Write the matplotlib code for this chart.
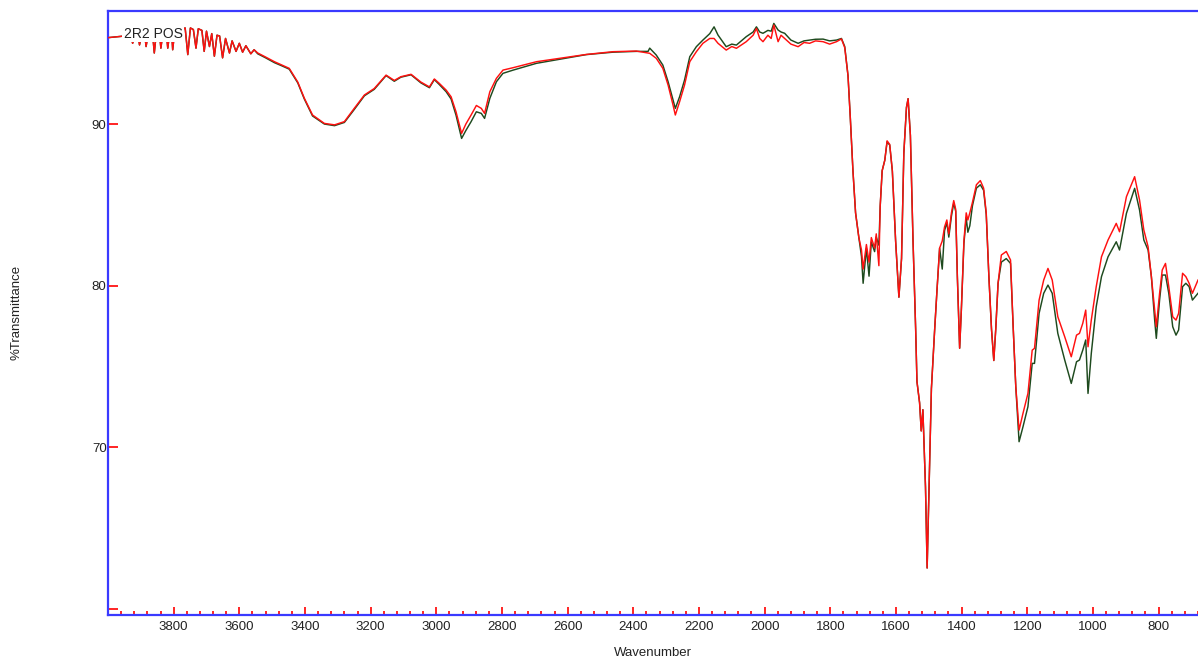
import matplotlib
matplotlib.use("Agg")
import matplotlib.pyplot as plt
from matplotlib.ticker import MultipleLocator, FixedLocator, FuncFormatter

plt.rcParams['font.family'] = ['Liberation Sans', 'DejaVu Sans']

# ---- data ----
wavenumber = [
    4000, 3975, 3950, 3930, 3925, 3918, 3908, 3904, 3898, 3888, 3884, 3878, 3864, 3859, 3853, 3843,
    3839, 3833, 3822, 3818, 3812, 3806, 3803, 3797, 3785, 3775, 3765, 3757, 3749, 3740, 3732, 3725,
    3714, 3707, 3700, 3691, 3684, 3676, 3668, 3660, 3651, 3642, 3630, 3622, 3610, 3600, 3590, 3580,
    3565, 3555, 3544, 3520, 3493, 3470, 3448, 3422, 3402, 3377, 3341, 3310, 3280, 3250, 3219, 3189,
    3153, 3128, 3108, 3077, 3047, 3021, 3006, 2991, 2970, 2955, 2940, 2923, 2910, 2894, 2878, 2863,
    2853, 2837, 2817, 2797, 2766, 2695, 2614, 2543, 2462, 2391, 2355, 2350, 2330, 2310, 2294, 2279,
    2272, 2259, 2244, 2228, 2208, 2188, 2167, 2154, 2142, 2117, 2100, 2086, 2056, 2035, 2025, 2015,
    2005, 1990, 1980, 1972, 1959, 1950, 1939, 1920, 1898, 1880, 1863, 1845, 1822, 1802, 1781, 1766,
    1756, 1746, 1739, 1731, 1723, 1713, 1705, 1700, 1690, 1682, 1675, 1665, 1660, 1652, 1648, 1642,
    1634, 1627, 1619, 1611, 1601, 1591, 1583, 1576, 1568, 1563, 1556, 1548, 1540, 1536, 1528, 1523,
    1518, 1510, 1505, 1499, 1492, 1482, 1475, 1467, 1459, 1452, 1445, 1439, 1431, 1424, 1418, 1413,
    1406, 1401, 1393, 1386, 1381, 1375, 1367, 1355, 1343, 1333, 1325, 1317, 1309, 1302, 1296, 1289,
    1279, 1264, 1251, 1243, 1235, 1225, 1213, 1198, 1185, 1178, 1164, 1150, 1137, 1124, 1107, 1086,
    1066, 1050, 1041, 1031, 1022, 1015, 1005, 990, 974, 954, 929, 919, 898, 873, 858, 845,
    832, 822, 812, 807, 797, 789, 779, 769, 757, 747, 739, 727, 717, 707, 697, 680,
]

transmittance_red = [
    95.35, 95.40, 95.45, 95.50, 95.00, 95.50, 95.50, 94.90, 95.50, 95.50, 94.80, 95.55, 95.55, 94.40, 95.60, 95.60,
    94.70, 95.60, 95.60, 94.70, 95.65, 95.65, 94.60, 95.70, 95.75, 95.85, 95.95, 94.30, 95.95, 95.85, 94.70, 95.90,
    95.80, 94.50, 95.75, 94.80, 95.60, 94.20, 95.50, 95.45, 94.10, 95.30, 94.40, 95.15, 94.50, 95.00, 94.45, 94.85,
    94.35, 94.60, 94.40, 94.15, 93.86, 93.65, 93.45, 92.60, 91.60, 90.56, 90.04, 89.95, 90.15, 90.97, 91.80, 92.20,
    93.03, 92.70, 92.93, 93.08, 92.60, 92.30, 92.79, 92.52, 92.10, 91.69, 90.76, 89.42, 90.00, 90.56, 91.15, 90.97,
    90.66, 92.00, 92.83, 93.34, 93.49, 93.86, 94.10, 94.31, 94.48, 94.52, 94.40, 94.38, 94.07, 93.45, 92.41, 91.18,
    90.56, 91.38, 92.41, 93.86, 94.48, 95.00, 95.30, 95.30, 95.00, 94.58, 94.80, 94.69, 95.10, 95.50, 95.92, 95.30,
    95.10, 95.50, 95.30, 96.13, 95.10, 95.50, 95.30, 94.95, 94.79, 95.05, 95.00, 95.15, 95.10, 94.95, 95.10, 95.27,
    94.73, 92.99, 90.38, 87.11, 84.50, 82.97, 82.20, 81.02, 82.54, 81.45, 82.97, 82.32, 83.20, 81.23, 84.94, 87.11,
    87.76, 88.96, 88.74, 87.11, 82.76, 79.28, 81.67, 88.20, 91.03, 91.57, 89.29, 82.76, 77.31, 74.05, 72.74, 71.00,
    72.31, 67.52, 62.51, 67.52, 73.62, 77.31, 79.71, 82.32, 82.76, 83.63, 84.06, 83.20, 84.50, 85.26, 84.72, 80.58,
    76.12, 78.40, 82.76, 84.50, 84.06, 84.50, 85.15, 86.24, 86.50, 86.03, 84.50, 80.58, 77.31, 75.36, 77.31, 80.14,
    81.89, 82.11, 81.58, 77.45, 73.73, 71.05, 72.09, 73.32, 76.00, 76.11, 79.10, 80.34, 81.06, 80.34, 78.07, 76.83,
    75.59, 76.93, 77.04, 77.66, 78.48, 76.21, 77.86, 79.93, 81.78, 82.82, 83.85, 83.33, 85.50, 86.74, 85.29, 83.44,
    82.40, 80.55, 78.48, 77.45, 79.52, 80.96, 81.37, 79.93, 78.07, 77.86, 78.28, 80.76, 80.55, 80.14, 79.52, 80.34,
]

transmittance_green = [
    95.35, 95.40, 95.45, 95.50, 95.00, 95.50, 95.50, 94.90, 95.50, 95.50, 94.80, 95.55, 95.55, 94.40, 95.60, 95.60,
    94.70, 95.60, 95.60, 94.70, 95.65, 95.65, 94.60, 95.70, 95.75, 95.85, 95.95, 94.30, 95.95, 95.85, 94.70, 95.90,
    95.80, 94.50, 95.75, 94.80, 95.60, 94.20, 95.50, 95.45, 94.10, 95.30, 94.40, 95.15, 94.50, 95.00, 94.45, 94.85,
    94.35, 94.60, 94.35, 94.10, 93.80, 93.60, 93.40, 92.55, 91.55, 90.50, 90.00, 89.90, 90.10, 90.90, 91.75, 92.15,
    93.00, 92.65, 92.90, 93.05, 92.55, 92.25, 92.75, 92.45, 92.00, 91.55, 90.55, 89.11, 89.60, 90.15, 90.76, 90.66,
    90.35, 91.59, 92.62, 93.14, 93.34, 93.76, 94.05, 94.30, 94.45, 94.50, 94.50, 94.70, 94.27, 93.65, 92.62, 91.49,
    90.97, 91.69, 92.72, 94.17, 94.79, 95.20, 95.60, 96.02, 95.51, 94.79, 94.95, 94.89, 95.41, 95.70, 96.02, 95.70,
    95.62, 95.80, 95.75, 96.23, 95.82, 95.70, 95.62, 95.20, 95.00, 95.15, 95.20, 95.25, 95.26, 95.15, 95.20, 95.30,
    94.80, 92.99, 90.38, 87.11, 84.50, 82.97, 81.80, 80.14, 82.30, 80.58, 82.70, 82.10, 83.00, 82.50, 84.90, 87.11,
    87.76, 88.90, 88.70, 87.10, 82.76, 79.28, 81.67, 88.20, 91.03, 91.57, 89.29, 82.76, 77.31, 74.05, 72.74, 71.00,
    72.31, 67.52, 62.51, 67.52, 73.62, 77.31, 79.71, 82.32, 81.02, 83.40, 83.90, 83.00, 84.30, 85.10, 84.60, 80.58,
    76.12, 78.40, 82.60, 84.20, 83.30, 83.70, 84.94, 86.03, 86.24, 85.90, 84.40, 80.58, 77.31, 75.36, 77.31, 80.14,
    81.45, 81.67, 81.37, 77.45, 73.73, 70.33, 71.26, 72.50, 75.18, 75.18, 78.28, 79.52, 80.03, 79.52, 77.04, 75.39,
    73.94, 75.28, 75.39, 76.00, 76.63, 73.32, 75.80, 78.69, 80.55, 81.78, 82.71, 82.20, 84.47, 86.02, 84.67, 82.82,
    82.20, 80.55, 77.86, 76.73, 79.10, 80.65, 80.65, 79.52, 77.45, 76.93, 77.25, 79.93, 80.14, 79.93, 79.10, 79.52,
]

y_ticks = [60, 70, 80, 90]
y_tick_labels = ["", "70", "80", "90"]
sample_label = "2R2 POS"

# ---- figure ----
W, H = 1198, 659
fig = plt.figure(figsize=(W / 100, H / 100), dpi=100)
ax = fig.add_axes([108 / W, 44 / H, 1090 / W, 604 / H])

ax.plot(wavenumber, transmittance_green, color="#1e4a1e", lw=1.05, zorder=2)
ax.plot(wavenumber, transmittance_red, color="#ff1010", lw=1.05, zorder=3)

ax.set_xlim(4000, 680)
ax.set_ylim(59.6, 97.0)

blue = "#3a3aff"
for side in ("left", "top", "bottom"):
    ax.spines[side].set_color(blue)
    ax.spines[side].set_linewidth(1.6)
ax.spines["right"].set_visible(False)

ax.xaxis.set_major_locator(MultipleLocator(200))
ax.xaxis.set_minor_locator(MultipleLocator(40))
ax.xaxis.set_major_formatter(FuncFormatter(lambda v, p: f"{int(round(v))}" if 800 <= v <= 3800 else ""))
ax.yaxis.set_major_locator(FixedLocator(y_ticks))
ax.set_yticklabels(y_tick_labels)

ax.tick_params(axis="x", which="major", direction="in", length=6, width=1.2, color="red",
               labelsize=9.5, labelcolor="#222222", pad=4)
ax.tick_params(axis="x", which="minor", direction="in", length=2.6, width=1.2, color="red")
ax.tick_params(axis="y", which="major", direction="in", length=7.5, width=1.2, color="red",
               labelsize=9.5, labelcolor="#222222", pad=1)

ax.text(3952, 95.6, sample_label, ha="left", va="center", fontsize=10, color="#222222",
        bbox=dict(facecolor="white", edgecolor="none", pad=1.2), zorder=5)

fig.text(653 / W, 1 - 653 / H, "Wavenumber", ha="center", va="center", fontsize=9.5, color="#222222")
fig.text(17 / W, 1 - 312 / H, "%Transmittance", ha="center", va="center", rotation=90,
         fontsize=9.5, color="#222222")

fig.savefig("out.png", dpi=100)
